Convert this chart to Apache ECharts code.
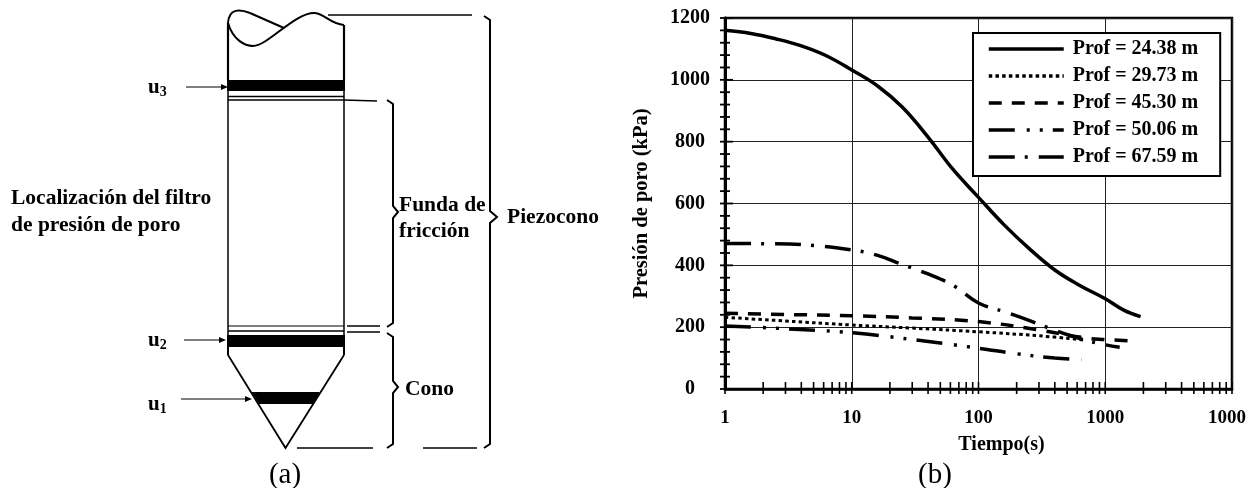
<!DOCTYPE html>
<html><head><meta charset="utf-8">
<style>html,body{margin:0;padding:0;background:#fff}#c{width:1255px;height:488px}</style>
<script src="https://cdn.jsdelivr.net/npm/echarts@6/dist/echarts.min.js"></script>
</head><body><div id="c"></div>
<script>
const seriesNames = ['Prof = 24.38 m','Prof = 29.73 m','Prof = 45.30 m','Prof = 50.06 m','Prof = 67.59 m'];
const prof2438 = [[1,1160],[1.6,1150],[2.5,1133],[4,1110],[6.3,1078],[10,1032],[16,980],[25,912],[40,815],[63,710],[100,620],[160,530],[250,455],[400,385],[630,335],[1000,292],[1400,255],[1900,234]];
const prof2973 = [[1,232],[3,220],[10,207],[30,197],[100,185],[300,172],[700,158]];
const prof4530 = [[1,245],[3,241],[10,237],[30,230],[100,218],[300,191],[700,165],[1000,160],[1500,156]];
const prof5006 = [[1,204],[3,195],[10,182],[30,160],[100,132],[200,114],[400,100],[650,95]];
const prof6759 = [[1,471],[2,470],[4,467],[10,450],[16,432],[25,403],[40,372],[63,335],[100,278],[160,250],[250,222],[400,190],[630,163],[1000,143],[1300,135]];
const xTicks = [1,10,100,1000,10000];
const xTickLabels = ['1','10','100','1000','1000'];
const xMinor = [2,3,4,5,6,7,8,9,20,30,40,50,60,70,80,90,200,300,400,500,600,700,800,900,2000,3000,4000,5000,6000,7000,8000,9000];
const yMajor = [0,200,400,600,800,1000,1200];
const yMinor = [40,80,120,160,240,280,320,360,440,480,520,560,640,680,720,760,840,880,920,960,1040,1080,1120,1160];
const dashes = ['solid',[3.5,3.2],[13,10],[26,12,3,10,3,10],[26,10,3,11]];
const widths = [3.5,3,3.5,3.5,3.5];
const values = [prof2438,prof2973,prof4530,prof5006,prof6759];

const black='#000';
const serif='"Liberation Serif"';
function line(x1,y1,x2,y2,w){return {type:'line',shape:{x1,y1,x2,y2},style:{stroke:black,lineWidth:w||1.5}};}
function poly(points,w){return {type:'polyline',shape:{points},style:{stroke:black,lineWidth:w||2,fill:null}};}
function rect(x,y,width,height){return {type:'rect',shape:{x,y,width,height},style:{fill:black}};}
function bez(x1,y1,cpx1,cpy1,cpx2,cpy2,x2,y2,w){return {type:'bezierCurve',shape:{x1,y1,cpx1,cpy1,cpx2,cpy2,x2,y2},style:{stroke:black,lineWidth:w||2,fill:null}};}
function label(text,x,y,size,weight,align){return {type:'text',x,y,style:{text,fill:black,font:(weight||'bold')+' '+(size||21.5)+'px '+serif,textAlign:align||'left',textVerticalAlign:'middle'}};}
function sub(main,s,x,y){return {type:'text',x,y,style:{text:'{a|'+main+'}{b|'+s+'}',fill:black,textVerticalAlign:'middle',rich:{a:{font:'bold 21px '+serif,fill:black},b:{font:'bold 14px '+serif,fill:black,padding:[8,0,0,0]}}}};}
function arrow(x1,x2,y){return [line(x1,y,x2-6,y,1),{type:'polygon',shape:{points:[[x2,y],[x2-7,y-3],[x2-7,y+3]]},style:{fill:black}}];}
function brace(x,top,tipY,bottom,tipX){return [poly([[x-6,top],[x,top+4],[x,tipY-6],[tipX,tipY],[x,tipY+6],[x,bottom-4],[x-6,bottom]],2)];}

const diagram = [
  bez(228,23,229,8,240,9,250,13,2), line(250,13,284,28,2),
  bez(228,23,233,40,245,46,253,46,2), bez(253,46,268,46,295,12,315,13,2), bez(315,13,325,14,330,24,344,25,2),
  line(228,23,228,80,2.2), line(344,25,344,80,2.2),
  line(328,15,472,15,1.5),
  rect(227,80,118,11),
  line(228,96.5,344,96.5,1.5), line(228,100,344,100,1.5), line(344,100,377,101,1.5),
  line(228,91,228,335,1.5), line(344,91,344,335,1.5),
  line(228,326,344,326,1.2), line(228,331,344,331,1.5),
  line(347,326,380,326,1.5), line(347,332,380,332,1.5),
  rect(227,335,118,12),
  line(228,347,228,355,2), line(344,347,344,355,2),
  poly([[228,355],[285.5,448],[344,355]],1.8),
  {type:'polygon',shape:{points:[[251.5,392],[320,392],[313,404],[259,404]]},style:{fill:black}},
  line(297,448,373,448,1.5), line(423,448,477,448,1.5),
  ...brace(393,100,212,327,398),
  ...brace(393,333,387,448,398),
  ...brace(490,16,217,448,497),
  ...arrow(186,228,87), ...arrow(184,226,340), ...arrow(181,252,399),
  sub('u','3',148,88), sub('u','2',148,341), sub('u','1',148,405),
  label('Localización del filtro',11,198), label('de presión de poro',11,225),
  label('Funda de',399,205), label('fricción',399,231),
  label('Piezocono',507,217), label('Cono',405,389),
  label('(a)',285,475,29,'normal','center'), label('(b)',935,475,29,'normal','center')
];

const lineSeries = seriesNames.map((name,i)=>({
  name,type:'line',data:values[i],smooth:0.4,symbol:'none',z:3,
  lineStyle:{color:black,width:widths[i],type:dashes[i],cap:'butt'}
}));
function tickSeries(data,axis,major){
  return {type:'custom',silent:true,z:2,coordinateSystem:'cartesian2d',encode:axis==='x'?{x:0}:{y:0},data:data.map(v=>axis==='x'?[v,0]:[1,v]),
    renderItem(p,api){
      const c=api.coord([api.value(0),api.value(1)]);
      const s=axis==='x'?{x1:c[0],y1:c[1]-7,x2:c[0],y2:c[1]+5}:{x1:c[0]-5,y1:c[1],x2:c[0]+(major?8:5),y2:c[1]};
      return {type:'line',shape:s,style:{stroke:black,lineWidth:axis==='x'?1.6:1.8}};
    }};
}
const tickFont={fontFamily:serif,fontWeight:'bold',fontSize:19,color:black};
const chart=echarts.init(document.getElementById('c'),null,{renderer:'canvas'});
chart.setOption({
  animation:false,backgroundColor:'#fff',
  textStyle:{fontFamily:serif},
  grid:{left:725,top:18,width:507,height:371,show:true,borderColor:black,borderWidth:2.5,backgroundColor:'transparent',containLabel:false},
  xAxis:{type:'log',logBase:10,min:1,max:10000,axisLine:{show:true,onZero:false,lineStyle:{color:black,width:2.5}},axisTick:{show:false},
    minorTick:{show:false},minorSplitLine:{show:false},
    splitLine:{show:true,lineStyle:{color:'#222',width:1}},
    axisLabel:{color:black,fontWeight:'bold',fontSize:19,margin:20,showMaxLabel:true,showMinLabel:true,hideOverlap:false,
      formatter:v=>{const i=xTicks.indexOf(Math.round(v));const k=i===0?'o':(i===xTicks.length-1?'m':'n');return '{'+k+'|'+xTickLabels[i]+'}';},
      rich:{o:{...tickFont,padding:[0,0,8,0]},n:{...tickFont},m:{...tickFont,padding:[0,10,0,0]}}},
    name:'Tiempo(s)',nameLocation:'middle',nameGap:46,nameTextStyle:{color:black,fontWeight:'bold',fontSize:20,padding:[0,0,0,46]}},
  yAxis:{type:'value',min:0,max:1200,interval:200,axisLine:{show:true,onZero:false,lineStyle:{color:black,width:3}},axisTick:{show:false},
    splitLine:{show:true,lineStyle:{color:'#222',width:1}},
    axisLabel:{color:black,fontWeight:'bold',fontSize:20,align:'center',margin:35,formatter:v=>String(v)},
    name:'Presión de poro (kPa)',nameLocation:'middle',nameGap:73,nameRotate:90,nameTextStyle:{color:black,fontWeight:'bold',fontSize:20.5}},
  legend:{show:true,data:seriesNames,orient:'vertical',left:973,top:33,align:'left',itemWidth:75,itemHeight:14,itemGap:7,
    padding:[6,22,9,14],borderColor:black,borderWidth:2,backgroundColor:'#fff',borderRadius:0,
    itemStyle:{color:'transparent',borderWidth:0,opacity:0},lineStyle:{width:3.5},
    selectedMode:false,textStyle:{color:black,fontWeight:'bold',fontSize:20,padding:[0,0,0,4]}},
  series:[...lineSeries,tickSeries(xMinor,'x'),tickSeries(xTicks,'x'),tickSeries(yMinor,'y',false),tickSeries(yMajor,'y',true)],
  graphic:{elements:diagram}
});
</script></body></html>
